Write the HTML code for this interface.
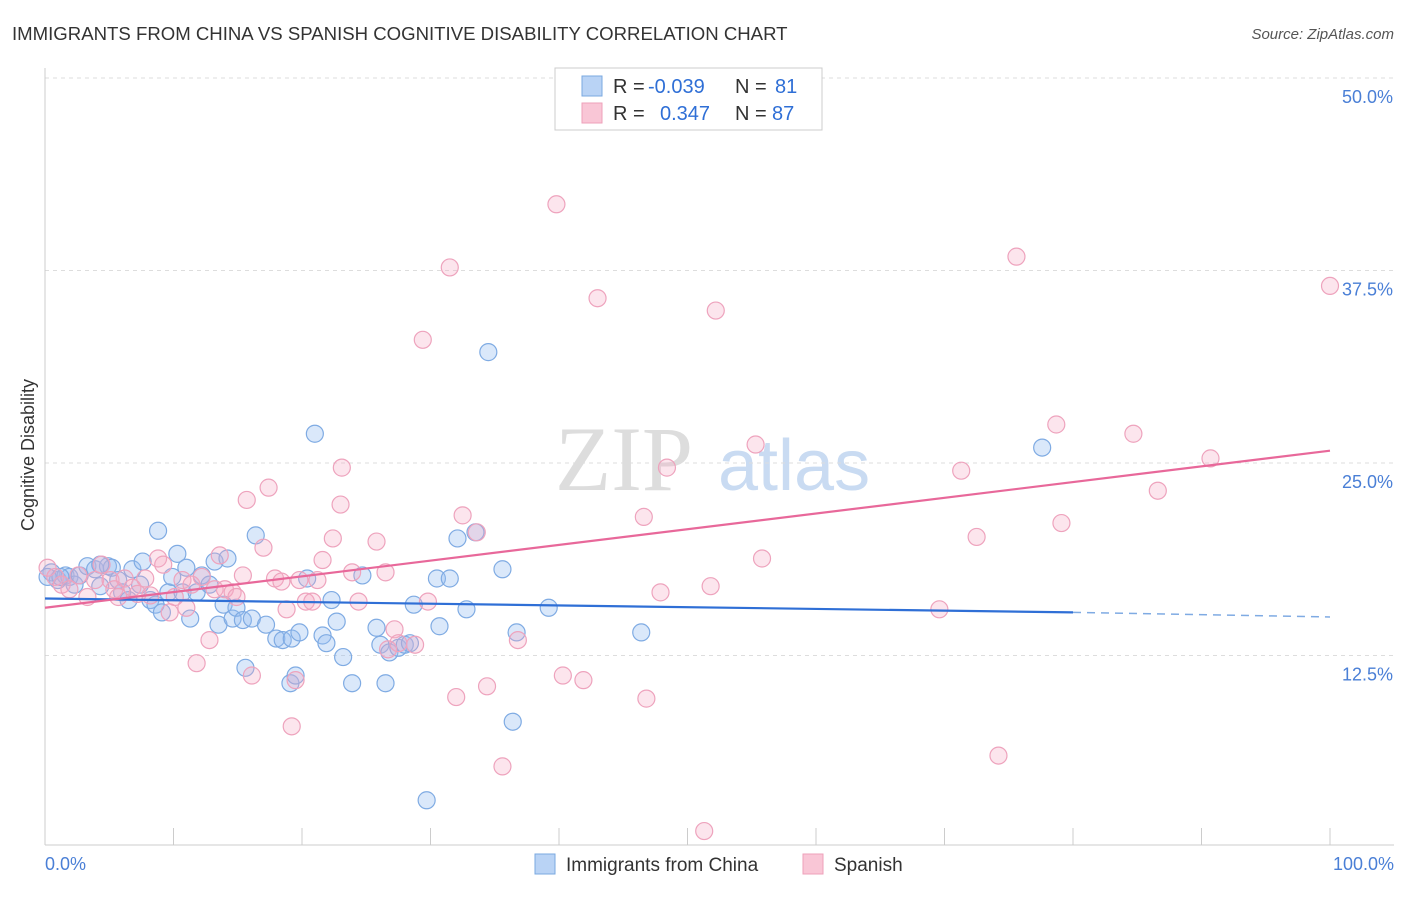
<!DOCTYPE html>
<html><head><meta charset="utf-8"><style>
body{margin:0;background:#fff;font-family:"Liberation Sans",sans-serif;}
</style></head><body>
<svg id="chart" width="1406" height="892" xmlns="http://www.w3.org/2000/svg" font-family="Liberation Sans, sans-serif">
<text x="12" y="40" font-size="18.6" fill="#333">IMMIGRANTS FROM CHINA VS SPANISH COGNITIVE DISABILITY CORRELATION CHART</text>
<text x="1394" y="39" font-size="15" fill="#555" text-anchor="end" font-style="italic">Source: ZipAtlas.com</text>
<text x="555" y="490" font-size="92" fill="#ddd" font-family="Liberation Serif, serif">ZIP</text>
<text x="718" y="490" font-size="72" fill="#c9dbf2">atlas</text>
<text transform="translate(34,455) rotate(-90)" font-size="18" fill="#333" text-anchor="middle">Cognitive Disability</text>
<g id="grid"></g><g id="pts"></g><g id="lines"></g>
<g font-size="20">
<rect x="555" y="68" width="267" height="62" fill="#fff" stroke="#ccc"/>
<rect x="582" y="76" width="20" height="20" fill="#b9d3f5" stroke="#7aa8e0"/>
<rect x="582" y="103" width="20" height="20" fill="#f9c6d6" stroke="#eea0ba"/>
<text x="613" y="93" fill="#333">R =</text><text x="648" y="93" fill="#2f6fd6">-0.039</text>
<text x="735" y="93" fill="#333">N =</text><text x="775" y="93" fill="#2f6fd6">81</text>
<text x="613" y="120" fill="#333">R =</text><text x="660" y="120" fill="#2f6fd6">0.347</text>
<text x="735" y="120" fill="#333">N =</text><text x="772" y="120" fill="#2f6fd6">87</text>
</g>
<g>
<rect x="535" y="854" width="20" height="20" fill="#b9d3f5" stroke="#7aa8e0"/>
<text x="566" y="871" font-size="19" fill="#333">Immigrants from China</text>
<rect x="803" y="854" width="20" height="20" fill="#f9c6d6" stroke="#eea0ba"/>
<text x="834" y="871" font-size="19" fill="#333">Spanish</text>
</g>
</svg>
<script>
const yTicks=[12.5,25,37.5,50];
const yTickLabels=["12.5%","25.0%","37.5%","50.0%"];
const xTickLabels=["0.0%","100.0%"];
const blueX=[0.5,1.0,1.6,1.9,2.3,2.7,3.3,3.9,4.3,4.9,5.2,5.7,6.0,6.5,6.8,7.4,7.6,8.2,8.6,8.8,9.1,9.6,9.9,10.3,10.7,11.0,11.3,11.8,12.2,12.8,13.2,13.5,13.9,14.2,14.6,14.9,15.4,15.6,16.1,16.4,17.2,18.0,18.5,19.1,19.2,19.5,19.8,20.4,21.0,21.6,21.9,22.3,22.7,23.2,23.9,24.7,25.8,26.1,26.5,26.8,27.5,28.0,28.4,28.7,29.7,30.5,30.7,31.5,32.1,32.8,33.5,34.5,35.6,36.4,36.7,39.2,46.4,77.6,0.2,1.2,4.3];
const blueY=[17.9,17.4,17.7,17.6,17.1,17.7,18.3,18.1,17.0,18.3,18.2,17.4,16.6,16.1,18.1,17.1,18.6,16.1,15.8,20.6,15.3,16.6,17.6,19.1,16.6,18.2,14.9,16.6,17.7,17.1,18.6,14.5,15.8,18.8,14.9,15.6,14.8,11.7,14.9,20.3,14.5,13.6,13.5,10.7,13.6,11.2,14.0,17.5,26.9,13.8,13.3,16.1,14.7,12.4,10.7,17.7,14.3,13.2,10.7,12.7,13.0,13.2,13.3,15.8,3.1,17.5,14.4,17.5,20.1,15.5,20.5,32.2,18.1,8.2,14.0,15.6,14.0,26.0,17.6,17.6,18.4];
const pinkX=[0.2,0.8,1.3,1.9,2.6,3.3,3.9,4.4,5.1,5.4,5.7,6.2,6.8,7.2,7.8,8.2,8.8,9.2,9.7,10.1,10.7,11.0,11.4,11.8,12.2,12.8,13.2,13.6,14.0,14.6,14.9,15.4,15.7,16.1,17.0,17.4,17.9,18.4,18.8,19.2,19.5,19.8,20.3,20.8,21.2,21.6,22.4,23.0,23.1,23.9,24.4,25.8,26.5,26.7,27.2,27.5,28.8,29.4,29.8,31.5,32.0,32.5,33.6,34.4,35.6,36.8,39.8,40.3,41.9,43.0,46.6,46.8,47.9,48.4,51.3,51.8,52.2,55.3,55.8,69.6,71.3,72.5,74.2,75.6,78.7,79.1,84.7,86.6,90.7,100];
const pinkY=[18.2,17.6,17.1,16.8,17.7,16.3,17.4,18.4,17.4,16.8,16.3,17.5,16.9,16.5,17.5,16.4,18.8,18.4,15.3,16.3,17.4,15.6,17.1,12.0,17.6,13.5,16.8,19.0,16.8,16.6,16.3,17.7,22.6,11.2,19.5,23.4,17.5,17.3,15.5,7.9,10.9,17.4,16.0,16.0,17.4,18.7,20.1,22.3,24.7,17.9,16.0,19.9,17.9,12.9,14.2,13.3,13.2,33.0,16.0,37.7,9.8,21.6,20.5,10.5,5.3,13.5,41.8,11.2,10.9,35.7,21.5,9.7,16.6,24.7,1.1,17.0,34.9,26.2,18.8,15.5,24.5,20.2,6.0,38.4,27.5,21.1,26.9,23.2,25.3,36.5];
const blueTrend=[16.2,15.3,15.0]; // at x=0, 80, 100
const pinkTrend=[15.6,25.8]; // at x=0, 100

const NS="http://www.w3.org/2000/svg";
const X0=45,X1=1330,Y50=78,PX=15.4;
const sx=v=>X0+(X1-X0)*v/100;
const sy=v=>Y50+(50-v)*PX;
function mk(tag,attrs,parent){const e=document.createElementNS(NS,tag);for(const k in attrs)e.setAttribute(k,attrs[k]);document.getElementById(parent).appendChild(e);return e;}
yTicks.forEach((t,i)=>{
  const l=mk('line',{x1:X0,x2:1394,y1:sy(t),y2:sy(t),stroke:'#ddd','stroke-dasharray':'4,4'},'grid');
  
  
  const tx=mk('text',{x:1393,y:sy(t)+25,'font-size':18,fill:'#4a7fd6','text-anchor':'end'},'grid');
  tx.textContent=yTickLabels[i];
  
  
});
const ax=mk('line',{x1:X0,x2:X0,y1:68,y2:845,stroke:'#ccc'},'grid');


const bx=mk('line',{x1:X0,x2:1394,y1:845,y2:845,stroke:'#ccc'},'grid');


for(let i=0;i<=10;i++){
  const t=mk('line',{x1:sx(i*10),x2:sx(i*10),y1:828,y2:845,stroke:'#ccc'},'grid');
  
  
}
[[0,'start',45],[100,'end',1394]].forEach((d,i)=>{
  const tx=mk('text',{x:d[2],y:870,'font-size':18,fill:'#4a7fd6','text-anchor':d[1]},'grid');
  tx.textContent=xTickLabels[i];
  
  
});
blueX.forEach((v,i)=>{
  const c=mk('circle',{cx:sx(v),cy:sy(blueY[i]),r:8.5,fill:'rgba(150,190,240,0.35)',stroke:'#7fabe3','stroke-width':1.2},'pts');
  
  
});
pinkX.forEach((v,i)=>{
  const c=mk('circle',{cx:sx(v),cy:sy(pinkY[i]),r:8.5,fill:'rgba(245,170,195,0.3)',stroke:'#eea3bd','stroke-width':1.2},'pts');
  
  
});
const b1=mk('line',{x1:sx(0),y1:sy(blueTrend[0]),x2:sx(80),y2:sy(blueTrend[1]),stroke:'#2f6fd6','stroke-width':2.2},'lines');


const b2=mk('line',{x1:sx(80),y1:sy(blueTrend[1]),x2:sx(100),y2:sy(blueTrend[2]),stroke:'#7fabe3','stroke-width':1.5,'stroke-dasharray':'8,6'},'lines');


const p1=mk('line',{x1:sx(0),y1:sy(pinkTrend[0]),x2:sx(100),y2:sy(pinkTrend[1]),stroke:'#e8689a','stroke-width':2.2},'lines');


</script>
</body></html>
